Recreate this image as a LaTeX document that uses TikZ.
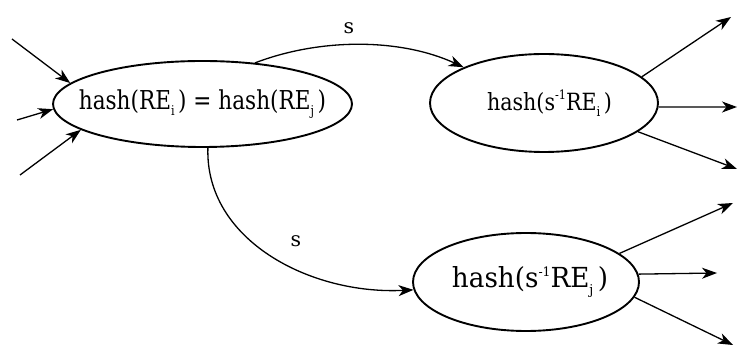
\documentclass[tikz,border=0pt]{standalone}
\usepackage{fontspec}
\setmainfont{DejaVu Serif}
\usetikzlibrary{shapes.geometric,arrows.meta}
\newcommand{\subi}[1]{\raisebox{-6.5pt}{\fontsize{13.5}{14}\selectfont #1}}
\newcommand{\supm}{\raisebox{11pt}{\fontsize{13}{13}\selectfont -1}}
\begin{document}
\begin{tikzpicture}[x=1pt,y=-1pt,
  st/.style={ellipse,draw,line width=1.9pt,inner sep=0pt},
  conn/.style={line width=1.3pt,-{Stealth[length=15pt,width=11pt,inset=4.5pt]}},
  lbl/.style={font=\fontsize{20.5}{24}\selectfont,inner sep=0pt}]
\useasboundingbox (0,0) rectangle (738,352);
\node[st,minimum width=299pt,minimum height=86pt] (e1) at (202.5,104)
  {\makebox[0pt]{\scalebox{0.83}[1]{\fontsize{26}{26}\selectfont hash(RE\subi{i}\,) = hash(RE\subi{j}\,)}}};
\node[st,minimum width=228pt,minimum height=98pt] (e2) at (544,103)
  {\makebox[0pt]{\hspace*{11pt}\scalebox{0.87}[1]{\fontsize{23.7}{24}\selectfont hash(s\supm RE\subi{i}\,)}}};
\node[st,minimum width=226pt,minimum height=98pt] (e3) at (526,282)
  {\makebox[0pt]{\hspace*{8pt}\scalebox{0.95}[1]{\fontsize{27.6}{28}\selectfont hash(s\supm RE\subi{j}\,)}}};
\coordinate (a1) at (12,39);
\coordinate (a2) at (17,120);
\coordinate (a3) at (20,175);
\draw[conn] (a1) -- (e1.171);
\draw[conn] (a2) -- (e1.182);
\draw[conn] (a3) -- (e1.192);
\coordinate (b1) at (731,17);
\coordinate (b2) at (737,107);
\coordinate (b3) at (737,169);
\draw[conn] (e2.15) -- (b1);
\draw[conn] (e2.358) -- (b2);
\draw[conn] (e2.343) -- (b3);
\coordinate (c1) at (733,203);
\coordinate (c2) at (717,273);
\coordinate (c3) at (733,345);
\draw[conn] (e3.17) -- (c1);
\draw[conn] (e3.4.6) -- (c2);
\draw[conn] (e3.352) -- (c3);
\draw[conn] (e1.38) .. controls (320,38) and (400,38) .. (e2.156);
\draw[conn] (e1.277) .. controls (205,240) and (310,295) .. (e3.184);
\node[lbl] (s1) at (349,28) {s};
\node[lbl] (s2) at (296,241) {s};
\end{tikzpicture}
\end{document}
